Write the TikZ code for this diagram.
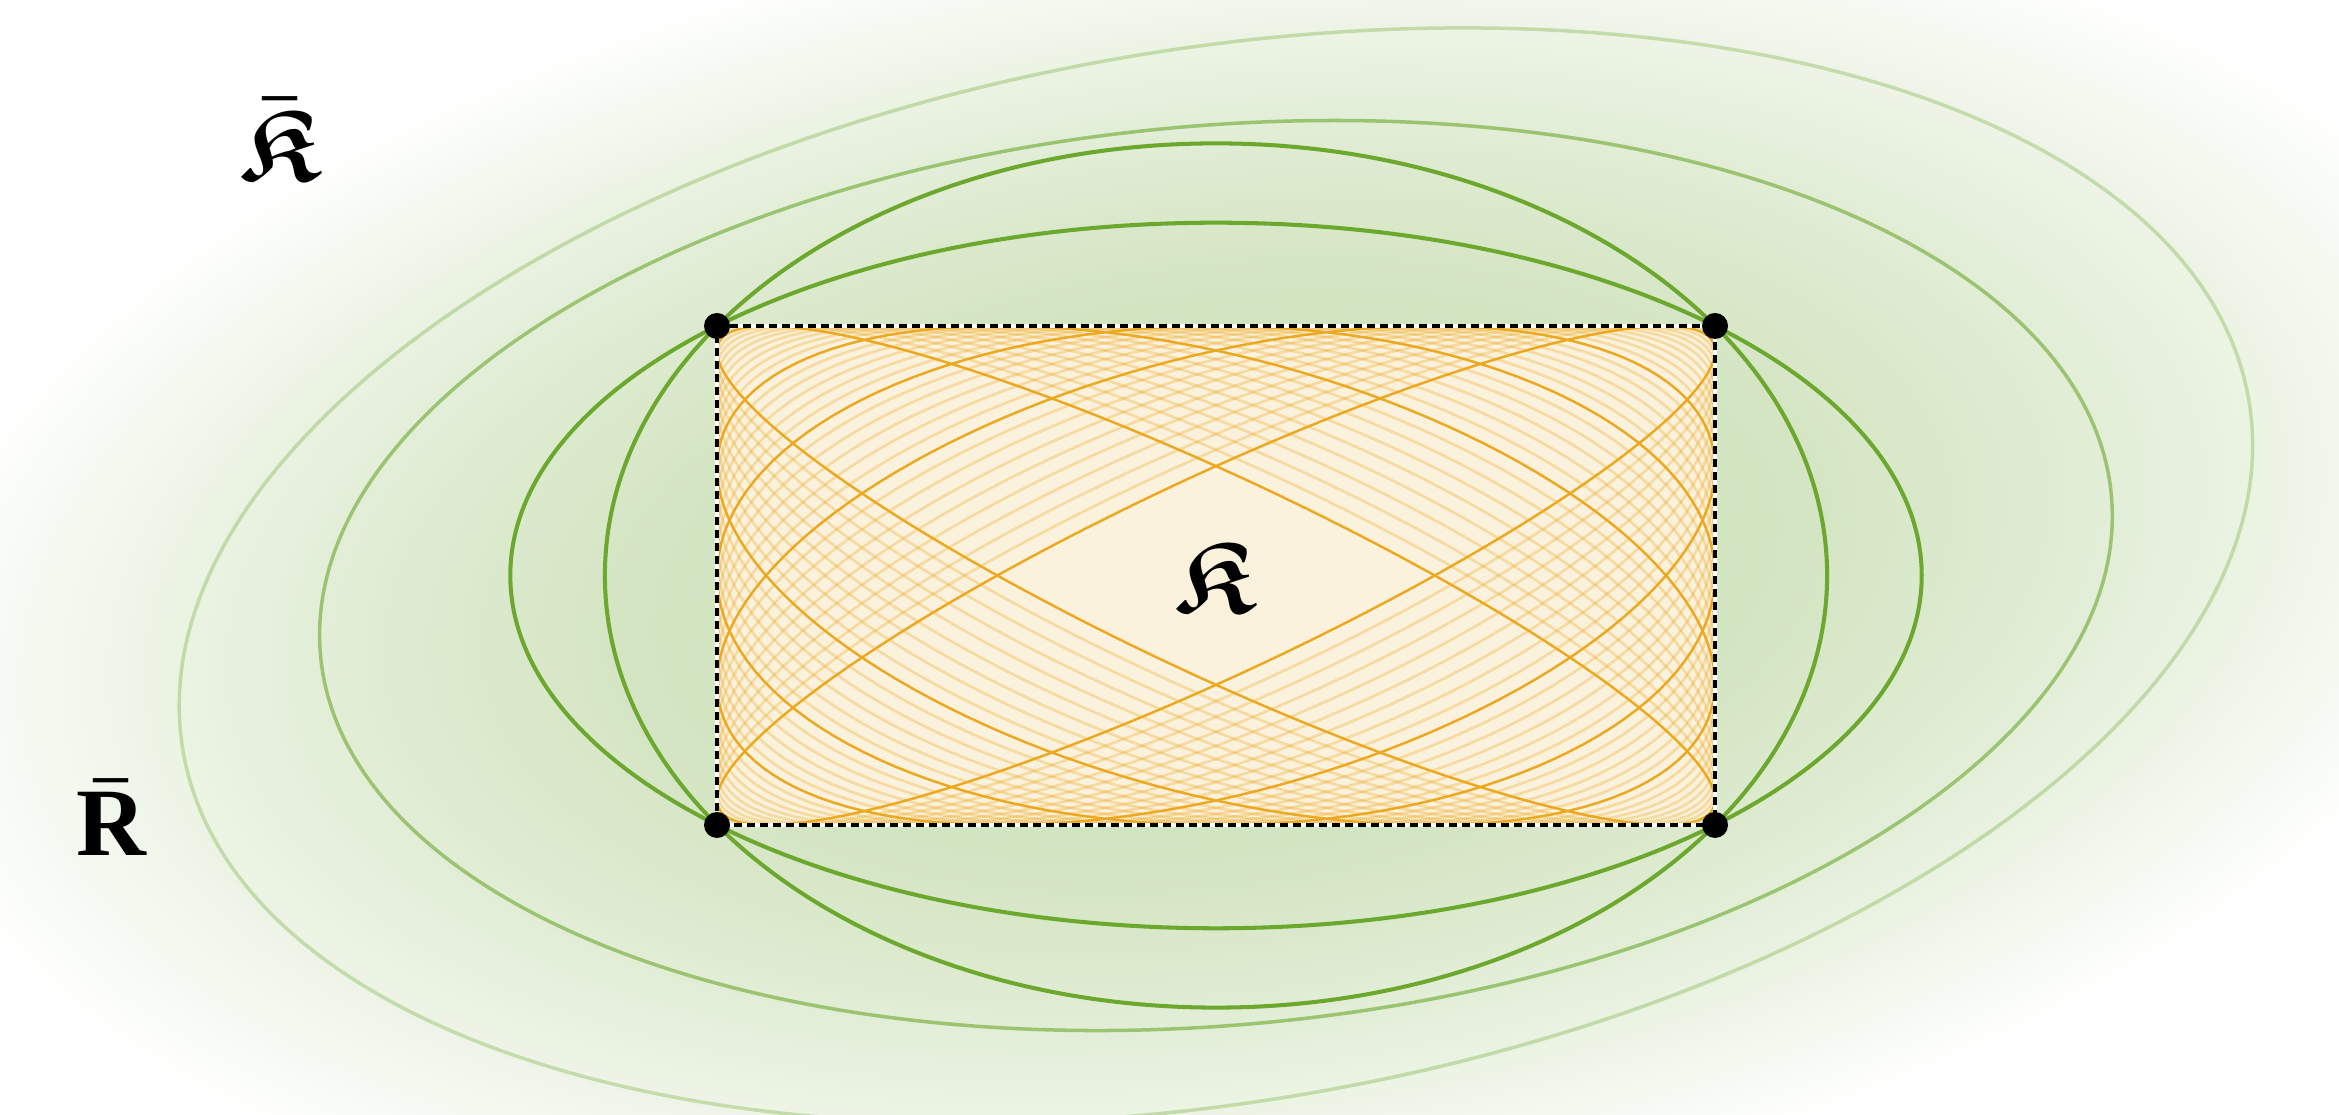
\documentclass[tikz,border=0pt]{standalone}
\usepackage{amssymb}
\usepackage{fontspec}
\newfontfamily\timesfam{Liberation Serif}
\definecolor{gdark}{RGB}{108,168,46}
\definecolor{odark}{RGB}{236,168,30}
\definecolor{ofill}{RGB}{251,242,222}
\definecolor{glowA}{RGB}{207,226,188}
\begin{document}
\begin{tikzpicture}[
  greenline/.style={draw=gdark, line width=1.15pt},
  greenmid/.style={draw=gdark, draw opacity=0.6, line width=1pt},
  greenfaint/.style={draw=gdark, draw opacity=0.32, line width=1pt},
  orangelight/.style={draw=odark, draw opacity=0.32, line width=0.75pt},
  orangedark/.style={draw=odark, line width=0.7pt},
  cornerdot/.style={circle, fill=black, inner sep=0pt, minimum size=0.26cm},
  lbl/.style={inner sep=0pt, text=black}
]
\useasboundingbox (0,0) rectangle (23.39,11.15);
\fill[white] (0,0) rectangle (23.39,11.15);
\coordinate (O) at (12.16,5.395);
\coordinate (tl) at (7.17,7.89);
\coordinate (tr) at (17.15,7.89);
\coordinate (br) at (17.15,2.90);
\coordinate (bl) at (7.17,2.90);
\begin{scope}
  \clip (0,0) rectangle (23.39,11.15);
  % soft green glow built from nested ellipses
  \foreach \i in {0,...,59}{
    \pgfmathsetmacro\rr{1.06-\i*(1.06-0.31)/59}
    \pgfmathsetmacro\pp{max(0,min(100,100*(1-((\rr-0.3)/0.76)^1.5)))}
    \fill[glowA!\pp!white, rotate around={7:(O)}] (O) ellipse [x radius=12.6*\rr cm, y radius=6.3*\rr cm];
  }
  % outer tilted ellipses
  \draw[greenfaint, rotate around={9.63:(O)}] (O) ellipse [x radius=10.477cm, y radius=5.261cm];
  \draw[greenmid, rotate around={5.08:(O)}] (O) ellipse [x radius=8.99cm, y radius=4.497cm];
  % ellipses through the corners
  \draw[greenline] (O) ellipse [x radius=7.057cm, y radius=3.528cm];
  \draw[greenline] (O) ellipse [x radius=6.111cm, y radius=4.321cm];
\end{scope}
% orange inscribed ellipses
\foreach \k in {0,...,30}{
  \pgfmathsetmacro\ph{26+128/30*\k}
  \fill[ofill] plot[domain=0:360, samples=145, variable=\t] ({12.16+4.99*cos(\t)}, {5.395+2.495*cos(\t-\ph)}) -- cycle;
}
\foreach \k in {1,...,8,10,11,12,13,14,16,17,18,19,20,22,23,24,25,26,27,28,29}{
  \pgfmathsetmacro\ph{26+128/30*\k}
  \draw[orangelight] plot[domain=0:360, samples=145, variable=\t] ({12.16+4.99*cos(\t)}, {5.395+2.495*cos(\t-\ph)}) -- cycle;
}
\foreach \k in {0,9,15,21,30}{
  \pgfmathsetmacro\ph{26+128/30*\k}
  \draw[orangedark] plot[domain=0:360, samples=145, variable=\t] ({12.16+4.99*cos(\t)}, {5.395+2.495*cos(\t-\ph)}) -- cycle;
}
% dashed rectangle
\draw[white, line width=1pt] (tl) -- (tr) -- (br) -- (bl) -- cycle;
\draw[black, line width=0.95pt, dash pattern=on 0.08cm off 0.05cm] (tl) -- (tr) -- (br) -- (bl) -- cycle;
\node[cornerdot] (dtl) at (tl) {};
\node[cornerdot] (dtr) at (tr) {};
\node[cornerdot] (dbr) at (br) {};
\node[cornerdot] (dbl) at (bl) {};
% labels
\node[lbl, font=\fontsize{29}{30}\selectfont\boldmath] (K) at (12.15,5.38) {$\mathfrak{K}$};
\node[lbl, font=\fontsize{29}{30}\selectfont\boldmath] (Kbar) at (2.80,9.76) {$\bar{\mathfrak{K}}$};
\node[lbl, font=\fontsize{27.5}{29}\selectfont\boldmath] (Rbar) at (1.11,2.975) {$\bar{\hbox{\timesfam\bfseries R}}$};
\end{tikzpicture}
\end{document}
